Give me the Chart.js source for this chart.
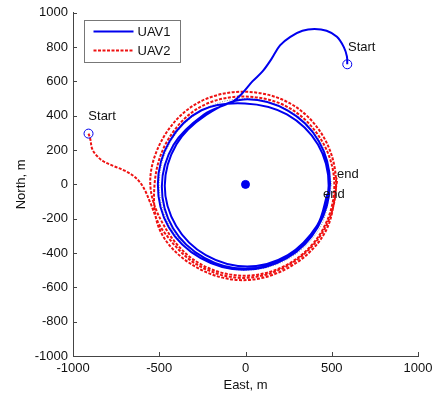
<!DOCTYPE html>
<html>
<head>
<meta charset="utf-8">
<script src="https://cdn.jsdelivr.net/npm/chart.js@4/dist/chart.umd.min.js"></script>
<style>
  html, body { margin: 0; padding: 0; background: #fff; }
  canvas { display: block; }
</style>
</head>
<body>
<canvas id="c" width="438" height="395"></canvas>
<script>
// UAV1 trajectory (East, North in m)
const uav1East = [590, 588, 570, 530, 470, 400, 330, 260, 200, 150, 100, 40, -20, -70,
  -241, -417, -485, -420, -238, 2, 243, 415, 482, 420, 240, -3,
  -255, -440, -508, -445, -260, -10, 240, 420, 490, 425, 245, -10,
  -228, -400, -468, -402, -230, 10, 245, 415, 475];
const uav1North = [700, 745, 800, 860, 895, 905, 895, 860, 810, 730, 660, 600, 530, 485,
  407, 231, -12, -255, -428, -492, -425, -250, -8, 232, 408, 472,
  432, 252, 2, -250, -430, -498, -430, -248, 5, 252, 430, 495,
  405, 234, -8, -242, -412, -478, -412, -240, -55];

// UAV2 trajectory
const uav2East = [-910, -900, -888, -860, -825, -760, -700, -650, -610, -580, -555,
  -478, -280, -12, 258, 455, 525, 455, 262, -15, -285, -478, -552,
  -455, -265, -5, 255, 445, 515, 445, 255, -8, -268, -455, -528,
  -490, -290, -12, 262, 462, 530, 520];
const uav2North = [296, 265, 205, 165, 135, 105, 80, 50, 10, -40, -100,
  -270, -468, -545, -465, -265, 5, 272, 470, 540, 470, 270, 0,
  -270, -462, -532, -460, -268, -5, 250, 445, 512, 448, 250, -10,
  -280, -480, -558, -478, -278, 15, 55];

// reference loiter circle, r = 500 m
const refEast = [500, 433, 250, 0, -250, -433, -500, -433, -250, 0, 250, 433, 500];
const refNorth = [0, 250, 433, 500, 433, 250, 0, -250, -433, -500, -433, -250, 0];

const startEast = [590, -910];
const startNorth = [700, 296];
const centerEast = [0];
const centerNorth = [0];

const xTicks = [-1000, -500, 0, 500, 1000];
const yTicks = [-1000, -800, -600, -400, -200, 0, 200, 400, 600, 800, 1000];

const notes = [
  { text: 'Start', x: 594, y: 801 },
  { text: 'Start', x: -911, y: 396 },
  { text: 'end', x: 530, y: 60 },
  { text: 'end', x: 449, y: -56 }
];

const FONT = '13px "Liberation Sans", Arial, sans-serif';
const BLUE = '#0000ee';
const RED = '#ee1111';

const pts = (xs, ys) => xs.map((x, i) => ({ x, y: ys[i] }));

const inwardTicks = {
  id: 'inwardTicks',
  afterDatasetsDraw(chart) {
    const { ctx, chartArea, scales } = chart;
    ctx.save();
    ctx.strokeStyle = '#444';
    ctx.lineWidth = 1;
    ctx.beginPath();
    xTicks.forEach(v => {
      const px = Math.round(scales.x.getPixelForValue(v)) + 0.5;
      ctx.moveTo(px, chartArea.bottom);
      ctx.lineTo(px, chartArea.bottom - 4);
    });
    yTicks.forEach(v => {
      const py = Math.round(scales.y.getPixelForValue(v)) + 0.5;
      ctx.moveTo(chartArea.left, py);
      ctx.lineTo(chartArea.left + 4, py);
    });
    ctx.stroke();

    // text notes
    ctx.fillStyle = '#111';
    ctx.font = FONT;
    ctx.textAlign = 'left';
    ctx.textBaseline = 'middle';
    notes.forEach(n => {
      ctx.fillText(n.text, scales.x.getPixelForValue(n.x), scales.y.getPixelForValue(n.y));
    });

    // legend box
    const bx = 84.5, by = 20.5, bw = 96, bh = 42;
    ctx.fillStyle = '#fff';
    ctx.fillRect(bx, by, bw, bh);
    ctx.strokeStyle = '#777';
    ctx.strokeRect(bx, by, bw, bh);
    const items = [
      { label: 'UAV1', color: BLUE, dash: [] },
      { label: 'UAV2', color: RED, dash: [3, 1.5] }
    ];
    items.forEach((it, i) => {
      const y = by + 11 + i * 19;
      ctx.beginPath();
      ctx.setLineDash(it.dash);
      ctx.strokeStyle = it.color;
      ctx.lineWidth = 2;
      ctx.moveTo(bx + 9, y);
      ctx.lineTo(bx + 49, y);
      ctx.stroke();
      ctx.setLineDash([]);
      ctx.fillStyle = '#111';
      ctx.fillText(it.label, bx + 53, y + 1);
    });
    ctx.restore();
  }
};

new Chart(document.getElementById('c'), {
  type: 'scatter',
  data: {
    datasets: [
      {
        label: 'UAV1',
        data: pts(uav1East, uav1North),
        showLine: true,
        borderColor: BLUE,
        borderWidth: 2,
        pointRadius: 0,
        tension: 0.35,
        order: 1
      },
      {
        label: 'UAV2',
        data: pts(uav2East, uav2North),
        showLine: true,
        borderColor: RED,
        borderWidth: 2,
        borderDash: [3, 1.5],
        pointRadius: 0,
        tension: 0.35,
        order: 3
      },
      {
        label: 'ref',
        data: pts(refEast, refNorth),
        showLine: true,
        borderColor: '#999',
        borderWidth: 1,
        borderDash: [1, 1.5],
        pointRadius: 0,
        tension: 0.35,
        order: 2
      },
      {
        label: 'start',
        data: pts(startEast, startNorth),
        showLine: false,
        pointRadius: 4.5,
        pointBorderColor: BLUE,
        pointBackgroundColor: 'rgba(0,0,0,0)',
        pointBorderWidth: 1,
        order: 0
      },
      {
        label: 'center',
        data: pts(centerEast, centerNorth),
        showLine: false,
        pointRadius: 4,
        pointBorderColor: BLUE,
        pointBackgroundColor: BLUE,
        order: 0
      }
    ]
  },
  options: {
    responsive: false,
    animation: false,
    layout: { padding: { top: 11, right: 20, bottom: 0, left: 0 } },
    plugins: {
      legend: { display: false },
      tooltip: { enabled: false }
    },
    scales: {
      x: {
        type: 'linear',
        min: -1000,
        max: 1000,
        afterFit: s => { s.height = 39; },
        afterBuildTicks: s => { s.ticks = xTicks.map(v => ({ value: v })); },
        grid: { display: false, drawTicks: false },
        border: { display: true, color: '#444', width: 1 },
        ticks: { color: '#111', font: { family: '"Liberation Sans", Arial', size: 13 }, padding: 5, maxRotation: 0, callback: v => String(v) },
        title: { display: true, text: 'East, m', color: '#111', font: { family: '"Liberation Sans", Arial', size: 13 }, padding: { top: 2, bottom: 2 } }
      },
      y: {
        type: 'linear',
        min: -1000,
        max: 1000,
        afterFit: s => { s.width = 73; },
        afterBuildTicks: s => { s.ticks = yTicks.map(v => ({ value: v })); },
        grid: { display: false, drawTicks: false },
        border: { display: true, color: '#444', width: 1 },
        ticks: { color: '#111', font: { family: '"Liberation Sans", Arial', size: 13 }, padding: 5, callback: v => String(v) },
        title: { display: true, text: 'North, m', color: '#111', font: { family: '"Liberation Sans", Arial', size: 13 }, padding: { top: 14, bottom: 0 } }
      }
    }
  },
  plugins: [inwardTicks]
});
</script>
</body>
</html>
